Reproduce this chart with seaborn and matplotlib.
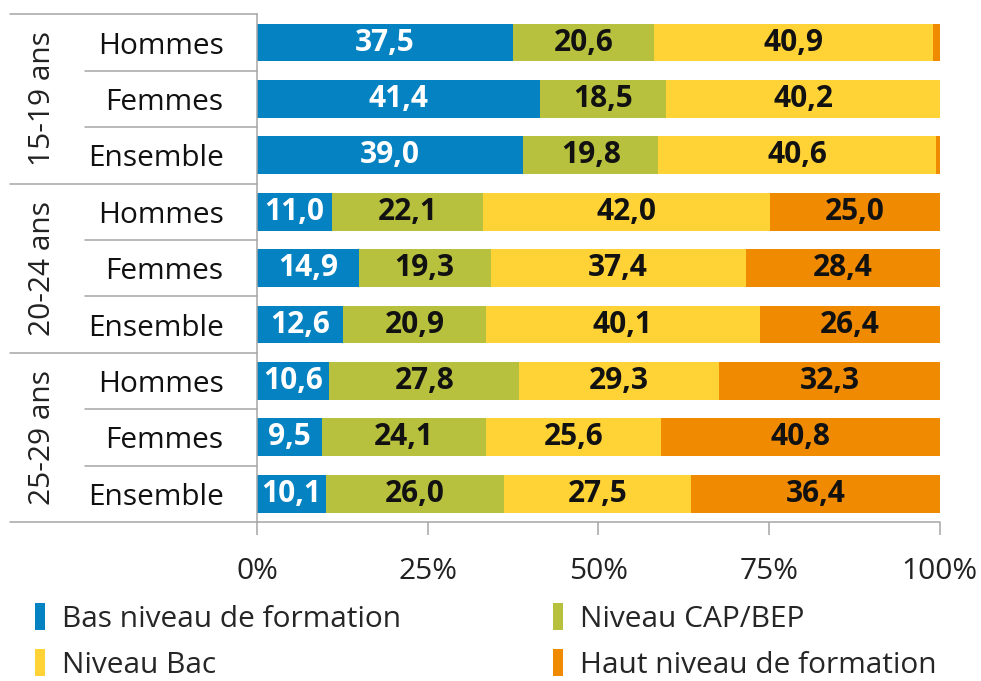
import matplotlib
matplotlib.use("Agg")
import matplotlib.pyplot as plt
from matplotlib.patches import Patch
import numpy as np
import pandas as pd
import seaborn as sns

groupes = ["15-19 ans", "20-24 ans", "25-29 ans"]
sexes = ["Hommes", "Femmes", "Ensemble"]
niveaux = ["Bas niveau de formation", "Niveau CAP/BEP", "Niveau Bac", "Haut niveau de formation"]
couleurs = ["#0582C1", "#B8C13D", "#FFD335", "#F08A00"]

bas = [37.5, 41.4, 39.0, 11.0, 14.9, 12.6, 10.6, 9.5, 10.1]
cap = [20.6, 18.5, 19.8, 22.1, 19.3, 20.9, 27.8, 24.1, 26.0]
bac = [40.9, 40.2, 40.6, 42.0, 37.4, 40.1, 29.3, 25.6, 27.5]
haut = [1.0, 0.0, 0.6, 25.0, 28.4, 26.4, 32.3, 40.8, 36.4]

sns.set_style("white")
plt.rcParams["font.family"] = ["Open Sans", "DejaVu Sans"]

rows = [g + " " + s for g in groupes for s in sexes]
vals = np.array([bas, cap, bac, haut])
cum = np.cumsum(vals, axis=0)
df = pd.DataFrame({"row": rows})
for i in range(4):
    df["c%d" % i] = cum[i]

fig = plt.figure(figsize=(9.81, 6.81), dpi=100)
ax = fig.add_axes([0.262, 0.2335, 0.696, 0.7455])

# stacked bars: draw cumulative totals from the largest down
for i in [3, 2, 1, 0]:
    sns.barplot(data=df, x="c%d" % i, y="row", orient="h", color=couleurs[i],
                saturation=1, width=0.67, errorbar=None, linewidth=0, ax=ax)

# value labels
fs = 21.5
for i in range(4):
    for j in range(len(rows)):
        v = vals[i][j]
        if v < 5:
            continue
        x = cum[i][j] - v / 2
        ax.text(x, j, ("%.1f" % v).replace(".", ","), ha="center", va="center",
                fontsize=fs, fontweight="bold",
                color="white" if i == 0 else "#111111")

ax.set_xlim(0, 100)
ax.set_ylim(8.5, -0.5)
ax.set_xlabel("")
ax.set_ylabel("")
ax.set_xticks([0, 25, 50, 75, 100])
ax.set_xticklabels(["0%", "25%", "50%", "75%", "100%"], fontsize=fs)
ax.set_yticks(range(9))
ax.set_yticklabels(sexes * 3, fontsize=fs, color="#111111")
ax.tick_params(axis="y", length=0, pad=24)
ax.tick_params(axis="x", length=9.5, width=1.1, color="#A6A6A6", pad=16,
               direction="out", bottom=True, labelcolor="#222222")

gris = "#A6A6A6"
for s in ["top", "right", "bottom"]:
    ax.spines[s].set_visible(False)
ax.spines["left"].set_color(gris)
ax.spines["left"].set_linewidth(1.1)

tr = ax.get_yaxis_transform()
# group separators
for k in range(4):
    y = k * 3 - 0.5
    x1 = 1.0 if k == 3 else 0
    ax.plot([-0.3616, x1], [y, y], transform=tr, color=gris, lw=1.1, clip_on=False)
# row separators inside groups
for k in range(3):
    for r in [1, 2]:
        y = k * 3 + r - 0.5
        ax.plot([-0.2518, 0], [y, y], transform=tr, color=gris, lw=1.1, clip_on=False)
# group labels
for k, g in enumerate(groupes):
    ax.text(-0.314, k * 3 + 1, g, transform=tr, rotation=90, ha="center",
            va="center", fontsize=fs, color="#222222")

handles = [Patch(facecolor=couleurs[i], edgecolor="none") for i in [0, 2, 1, 3]]
labels = [niveaux[i] for i in [0, 2, 1, 3]]
fig.legend(handles, labels, ncol=2, loc="upper left", bbox_to_anchor=(0.0357, 0.114),
           frameon=False, fontsize=fs, handlelength=0.33, handleheight=1.0,
           handletextpad=0.57, columnspacing=5.1, labelspacing=0.52,
           borderaxespad=0, borderpad=0)

fig.savefig("out.png", dpi=100)
